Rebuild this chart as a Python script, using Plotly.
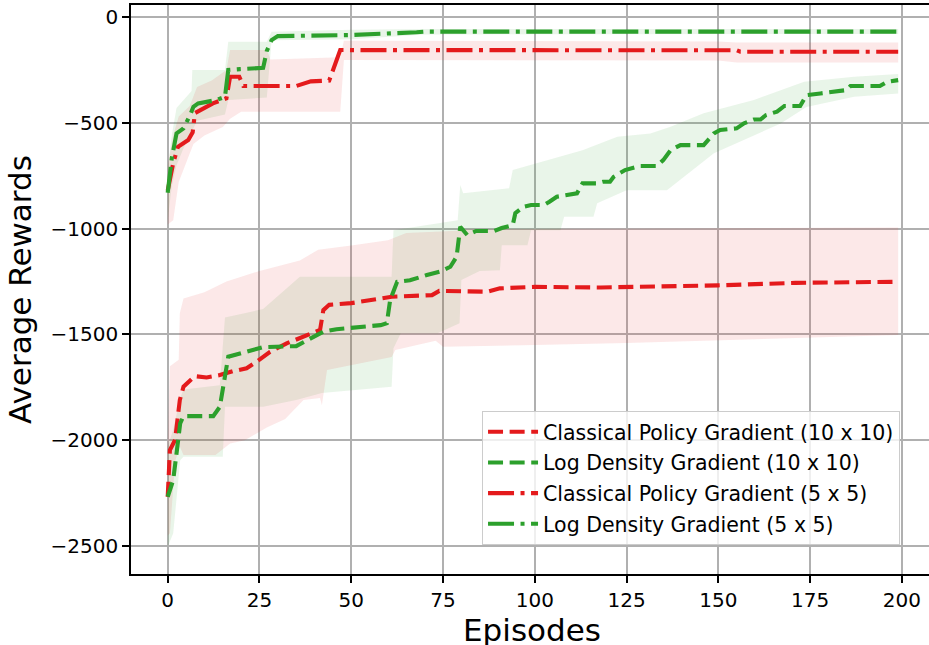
import plotly.graph_objects as go

# ---------------- data ----------------
# Classical Policy Gradient (10 x 10) - mean
ep_cpg10 = [0, 0.6, 2, 3.3, 4.3, 7.4, 10.6, 14.2, 17.9, 21.5, 24.2, 27.9, 32.4, 37, 41.5,
            42.4, 44, 50, 61, 72, 74, 87, 90.5, 100, 118, 150, 171, 199]
val_cpg10 = [-2267, -2046, -1999, -1810, -1747, -1697, -1703, -1692, -1673, -1660, -1629, -1582,
             -1542, -1511, -1479, -1385, -1360, -1352, -1322, -1314, -1294, -1298, -1282, -1275,
             -1278, -1268, -1256, -1251]
# band
ep_cpg10_up = [0, 0.6, 3.0, 3.3, 4.3, 10, 16, 25, 36, 41, 50, 60, 65, 79, 80, 199]
val_cpg10_up = [-2000, -1650, -1620, -1400, -1330, -1300, -1250, -1200, -1150, -1100, -1080,
                -1055, -1020, -1010, -1003, -994]
ep_cpg10_lo = [0, 0.6, 2, 3.3, 4.3, 13, 17, 21, 27, 32, 37, 41.5, 42, 43.4, 61, 62, 73, 75,
               100, 125, 150, 175, 199]
val_cpg10_lo = [-2450, -2440, -2100, -2030, -2070, -2070, -2015, -2000, -1940, -1900, -1810,
                -1800, -1834, -1668, -1607, -1574, -1530, -1558, -1550, -1540, -1530, -1515, -1503]

# Log Density Gradient (10 x 10) - mean
ep_ldg10 = [0, 1.5, 2.4, 3.4, 4.3, 12.4, 14.2, 15.6, 16.5, 19.7, 23.3, 26, 35, 38.8, 42.4, 46,
            58, 59.7, 60.6, 62.5, 66, 70.6, 74.2, 77, 78.7, 79.7, 81.6, 84, 89, 91, 94, 94.7,
            97, 99, 102.5, 104, 106, 111.5, 113, 116.8, 118.6, 120.5, 121.5, 124.6, 128.7,
            133.3, 135, 137, 139.7, 146, 148.8, 150.5, 155, 157, 159.7, 161.5, 163, 166, 168,
            172.3, 174, 177.8, 185, 186, 194, 196, 199]
val_ldg10 = [-2267, -2188, -2062, -1920, -1886, -1886, -1842, -1684, -1605, -1590, -1574, -1560,
             -1555, -1518, -1487, -1475, -1456, -1447, -1337, -1251, -1244, -1219, -1203, -1180,
             -1133, -991, -1030, -1011, -1011, -997, -983, -927, -896, -888, -888, -873, -849,
             -833, -786, -786, -778, -778, -755, -723, -704, -704, -676, -629, -605, -605, -550,
             -534, -526, -502, -484, -484, -463, -447, -420, -420, -369, -361, -345, -326, -326,
             -306, -298]
ep_ldg10_up = [0, 1.5, 3.4, 4.3, 14.2, 15.6, 26, 36, 61, 61.5, 79, 79.7, 80.5, 93, 94, 113,
               122.5, 131.5, 137, 146, 159.7, 173.4, 187, 199]
val_ldg10_up = [-2030, -1950, -1800, -1760, -1740, -1420, -1380, -1227, -1227, -1007, -960, -794,
                -833, -809, -723, -629, -566, -550, -518, -455, -392, -306, -282, -269]
ep_ldg10_lo = [0, 1.5, 3.4, 4.3, 15, 15.6, 26, 35, 42, 61, 61.5, 63.5, 73.5, 79.5, 80, 85,
               90.5, 91, 98, 99, 107, 108, 116, 117, 125, 136, 148.8, 167, 174, 187, 199]
val_ldg10_lo = [-2503, -2440, -2094, -2078, -2078, -1842, -1842, -1810, -1777, -1747, -1565,
                -1494, -1494, -1447, -1243, -1200, -1196, -1078, -1078, -1007, -1007, -944, -944,
                -880, -818, -818, -644, -503, -425, -377, -361]

# Classical Policy Gradient (5 x 5) - mean
ep_cpg5 = [0, 1.5, 2.8, 5.6, 6.8, 7.4, 12.3, 16, 17, 19.5, 20.6, 35, 39, 44, 47, 155, 156, 199]
val_cpg5 = [-820, -690, -613, -581, -545, -454, -408, -384, -282, -282, -326, -326, -304, -300,
            -156, -157, -164, -164]
ep_cpg5_up = [0, 1.5, 3, 6, 8, 12, 16, 17, 27, 28, 47, 48, 150, 155, 199]
val_cpg5_up = [-700, -560, -470, -420, -330, -300, -250, -156, -156, -200, -190, -112, -115,
               -120, -120]
ep_cpg5_lo = [0, 1.5, 3, 7, 10, 15, 17, 20, 47, 48, 150, 155, 199]
val_cpg5_lo = [-980, -960, -780, -600, -560, -520, -480, -447, -447, -203, -205, -215, -215]

# Log Density Gradient (5 x 5) - mean
ep_ldg5 = [0, 1.1, 2.4, 4.3, 6.1, 7, 8.3, 13.3, 15.6, 16.5, 19.7, 26, 27, 28.3, 30, 49.7, 67.8,
           70, 199]
val_ldg5 = [-830, -668, -550, -526, -463, -424, -408, -392, -377, -250, -246, -240, -160, -109,
            -90, -85, -72, -69, -69]
ep_ldg5_up = [0, 1.1, 2.4, 4.3, 6.5, 6.7, 15.6, 16.5, 27, 28.3, 50, 70, 199]
val_ldg5_up = [-720, -560, -430, -392, -350, -250, -250, -117, -117, -70, -60, -57, -57]
ep_ldg5_lo = [0, 1.1, 2.4, 4.3, 8, 15.6, 16.5, 27, 28.3, 50, 70, 199]
val_ldg5_lo = [-960, -800, -700, -620, -490, -460, -392, -380, -110, -105, -82, -80]

x_ticks = [0, 25, 50, 75, 100, 125, 150, 175, 200]
y_ticks = [-2500, -2000, -1500, -1000, -500, 0]
x_title = "Episodes"
y_title = "Average Rewards"

RED = "#e41a1c"
GREEN = "#2ca02c"
RED_FILL = "rgba(228,26,28,0.1)"
GREEN_FILL = "rgba(44,160,44,0.1)"
DASHED = "15px,6.6px"
DASHDOT = "26px,6.5px,4px,6.5px"
LW = 4.1
FONT = "DejaVu Sans"

fig = go.Figure()


def band(ex_up, up, ex_lo, lo, color):
    fig.add_trace(go.Scatter(
        x=list(ex_up) + list(ex_lo)[::-1],
        y=list(up) + list(lo)[::-1],
        fill="toself", fillcolor=color, mode="lines",
        line=dict(width=0, color="rgba(0,0,0,0)"),
        showlegend=False, hoverinfo="skip"))


band(ep_ldg10_up, val_ldg10_up, ep_ldg10_lo, val_ldg10_lo, GREEN_FILL)
band(ep_cpg10_up, val_cpg10_up, ep_cpg10_lo, val_cpg10_lo, RED_FILL)
band(ep_ldg5_up, val_ldg5_up, ep_ldg5_lo, val_ldg5_lo, GREEN_FILL)
band(ep_cpg5_up, val_cpg5_up, ep_cpg5_lo, val_cpg5_lo, RED_FILL)

series = [
    (ep_cpg10, val_cpg10, "Classical Policy Gradient (10 x 10)", RED, DASHED, "g1"),
    (ep_ldg10, val_ldg10, "Log Density Gradient (10 x 10)", GREEN, DASHED, "g2"),
    (ep_cpg5, val_cpg5, "Classical Policy Gradient (5 x 5)", RED, DASHDOT, "g3"),
    (ep_ldg5, val_ldg5, "Log Density Gradient (5 x 5)", GREEN, DASHDOT, "g4"),
]
for ex, ey, name, col, dash, grp in series:
    fig.add_trace(go.Scatter(x=ex, y=ey, mode="lines", name=name, legendgroup=grp,
                             line=dict(color=col, width=LW, dash=dash)))

fig.update_layout(
    width=929, height=645,
    margin=dict(l=131, r=0, t=5, b=71, autoexpand=False),
    paper_bgcolor="white", plot_bgcolor="white",
    font=dict(family=FONT, size=20, color="black"),
    showlegend=True,
    legend=dict(x=0.9637, y=0.051, xanchor="right", yanchor="bottom",
                bgcolor="rgba(255,255,255,0.8)", bordercolor="#cccccc", borderwidth=1,
                font=dict(family=FONT, size=20.5), tracegroupgap=1, traceorder="grouped",
                itemwidth=50),
    xaxis=dict(range=[-10, 207.4], tickvals=x_ticks, ticks="outside", ticklen=7, tickwidth=1.6,
               tickcolor="black", showline=True, linecolor="black", linewidth=1.6, mirror=True,
               showgrid=True, gridcolor="#b0b0b0", gridwidth=1.6, zeroline=False,
               automargin=False,
               tickfont=dict(family=FONT, size=20)),
    yaxis=dict(range=[-2632, 57], tickvals=y_ticks, ticks="outside", ticklen=7, tickwidth=1.6,
               tickcolor="black", showline=True, linecolor="black", linewidth=1.6, mirror=False,
               showgrid=True, gridcolor="#b0b0b0", gridwidth=1.6, zeroline=False,
               automargin=False,
               tickfont=dict(family=FONT, size=20),
               title=dict(text=y_title, font=dict(family=FONT, size=31), standoff=10)),
    annotations=[dict(text=x_title, xref="paper", yref="paper", x=0.503, y=-0.0633,
                      xanchor="center", yanchor="top", showarrow=False,
                      font=dict(family=FONT, size=31, color="black"))],
)

fig.write_html(
    "out.html",
    config={"displayModeBar": False},
    post_script="document.body.style.margin='0';document.body.style.padding='0';"
                "document.body.style.overflow='hidden';",
)
